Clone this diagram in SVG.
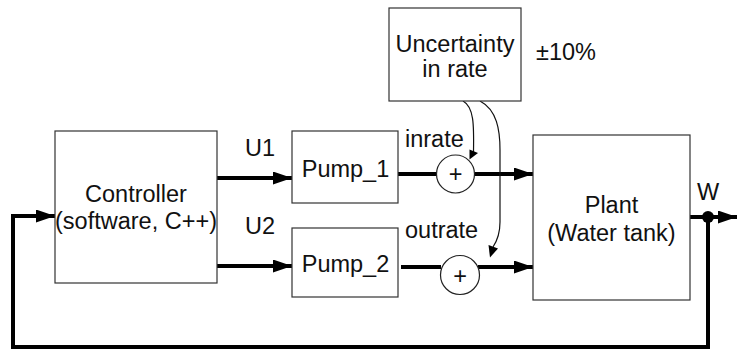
<svg xmlns="http://www.w3.org/2000/svg" width="737" height="350" viewBox="0 0 737 350">
<style>
.box{fill:#fff;stroke:#333;stroke-width:1.2}
.sum{fill:#fff;stroke:#222;stroke-width:1.2}
.t{font-family:"Liberation Sans",Arial,sans-serif;font-size:23.5px;fill:#111}
.m{text-anchor:middle}
.thick{fill:none;stroke:#000;stroke-width:4}
.thin{fill:none;stroke:#111;stroke-width:1.2}
.head{fill:#000}
</style>
<defs>
<marker id="ah" markerUnits="userSpaceOnUse" markerWidth="19" markerHeight="13" refX="19" refY="6.5" orient="auto">
<path d="M0,0 L19,6.5 L0,13 z" fill="#000"/>
</marker>
</defs>
<g id="connectors">
<line class="thick" x1="217" y1="178" x2="292" y2="178" marker-end="url(#ah)"/>
<line class="thick" x1="217" y1="266" x2="292" y2="266" marker-end="url(#ah)"/>
<line class="thick" x1="398" y1="174" x2="436" y2="174"/>
<line class="thick" x1="475" y1="174" x2="533" y2="174" marker-end="url(#ah)"/>
<line class="thick" x1="401" y1="267" x2="441" y2="267"/>
<line class="thick" x1="478" y1="267" x2="533" y2="267" marker-end="url(#ah)"/>
<line class="thick" x1="690" y1="217" x2="737" y2="217" marker-end="url(#ah)"/>
<polyline class="thick" points="708,217 708,347 13,347 13,216 55,216" marker-end="url(#ah)"/>
<circle cx="708" cy="217" r="6" fill="#000"/>
<path class="thin" d="M463,101 C474,107 474,125 473.5,152"/>
<polygon class="head" points="469.5,159.5 469.5,149.5 478,153"/>
<path class="thin" d="M480,101 C497,110 500,130 500,150 L500,222 C500,233 497,241 493,247"/>
<polygon class="head" points="490,257.5 488.5,245 498,248.5"/>
</g>
<g id="controller">
<rect class="box" x="55" y="131" width="162" height="152"/>
<text class="t m" x="136" y="202">Controller</text>
<text class="t m" x="136" y="229">(software, C++)</text>
</g>
<g id="u1-label"><text class="t" x="245" y="156">U1</text></g>
<g id="u2-label"><text class="t" x="245" y="234">U2</text></g>
<g id="pump1">
<rect class="box" x="292" y="131" width="106" height="72"/>
<text class="t m" x="345.5" y="177">Pump_1</text>
</g>
<g id="pump2">
<rect class="box" x="292" y="228" width="106" height="69"/>
<text class="t m" x="345.5" y="272">Pump_2</text>
</g>
<g id="uncertainty">
<rect class="box" x="389" y="8" width="132" height="93"/>
<text class="t m" x="455" y="52">Uncertainty</text>
<text class="t m" x="455" y="77">in rate</text>
</g>
<g id="pct-label"><text class="t" x="536" y="60">±10%</text></g>
<g id="inrate-label"><text class="t" x="405" y="147">inrate</text></g>
<g id="outrate-label"><text class="t" x="405" y="238">outrate</text></g>
<g id="sum1">
<circle class="sum" cx="455.5" cy="174" r="19"/>
<text class="t m" x="455.5" y="182">+</text>
</g>
<g id="sum2">
<circle class="sum" cx="460" cy="275" r="19.5"/>
<text class="t m" x="460" y="284">+</text>
</g>
<g id="plant">
<rect class="box" x="533" y="135" width="157" height="165"/>
<text class="t m" x="611.5" y="213">Plant</text>
<text class="t m" x="611.5" y="241">(Water tank)</text>
</g>
<g id="w-label"><text class="t" x="697" y="200">W</text></g>
</svg>
